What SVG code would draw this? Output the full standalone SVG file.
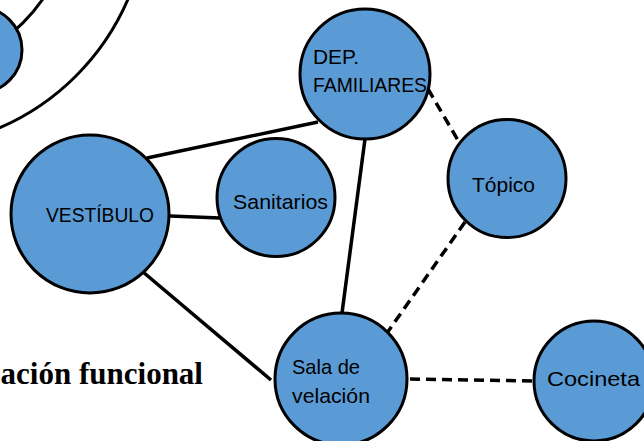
<svg xmlns="http://www.w3.org/2000/svg" width="644" height="441" viewBox="0 0 644 441">
<style>
.node{fill:#5B9BD5;stroke:#000;stroke-width:3}
.arc{fill:none;stroke:#000;stroke-width:3}
.solid{stroke:#000;stroke-width:3.5;fill:none}
.dash{stroke:#000;stroke-width:3.5;fill:none;stroke-dasharray:10 6}
.lbl{font-family:"Liberation Sans",Arial,sans-serif;font-size:21px;fill:#000}
.title{font-family:"Liberation Serif","Times New Roman",serif;font-size:31px;font-weight:bold;fill:#000}
</style>
<rect width="644" height="441" fill="#fff"/>
<g id="arcs">
<circle class="arc" cx="-98" cy="-98" r="246"/>
<circle class="arc" cx="-98" cy="-98" r="171"/>
</g>
<g id="connectors">
<line class="solid" x1="147" y1="158" x2="318" y2="122"/>
<line class="solid" x1="170" y1="216" x2="220" y2="218"/>
<line class="solid" x1="143" y1="272" x2="271" y2="380"/>
<line class="solid" x1="365" y1="139" x2="342" y2="313"/>
<line class="dash" x1="428" y1="89" x2="459" y2="142"/>
<line class="dash" x1="465" y1="222" x2="387" y2="333"/>
<line class="dash" x1="410" y1="379" x2="534" y2="381"/>
</g>
<g id="node-small">
<circle class="node" cx="-21" cy="50" r="43"/>
</g>
<g id="node-dep">
<circle class="node" cx="365" cy="74" r="65"/>
<text class="lbl" x="313" y="64" textLength="46" lengthAdjust="spacingAndGlyphs">DEP.</text>
<text class="lbl" x="313" y="92" textLength="114" lengthAdjust="spacingAndGlyphs">FAMILIARES</text>
</g>
<g id="node-vestibulo">
<circle class="node" cx="90" cy="214" r="79"/>
<text class="lbl" x="46" y="222" textLength="108" lengthAdjust="spacingAndGlyphs">VESTÍBULO</text>
</g>
<g id="node-sanitarios">
<circle class="node" cx="276" cy="197.5" r="59"/>
<text class="lbl" x="233" y="209" textLength="95" lengthAdjust="spacingAndGlyphs">Sanitarios</text>
</g>
<g id="node-topico">
<circle class="node" cx="507" cy="178.5" r="59"/>
<text class="lbl" x="472" y="192" textLength="63" lengthAdjust="spacingAndGlyphs">Tópico</text>
</g>
<g id="node-sala">
<circle class="node" cx="341" cy="379" r="66"/>
<text class="lbl" x="292" y="374" textLength="68" lengthAdjust="spacingAndGlyphs">Sala de</text>
<text class="lbl" x="292" y="403" textLength="78" lengthAdjust="spacingAndGlyphs">velación</text>
</g>
<g id="node-cocineta">
<circle class="node" cx="594" cy="381" r="60"/>
<text class="lbl" x="547" y="386" textLength="93" lengthAdjust="spacingAndGlyphs">Cocineta</text>
</g>
<text class="title" x="203" y="384" text-anchor="end">ación funcional</text>
</svg>
